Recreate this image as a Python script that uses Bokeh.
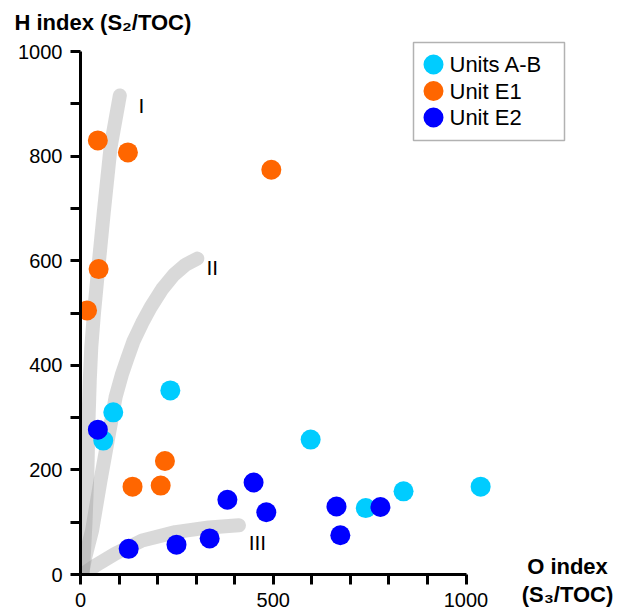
from bokeh.plotting import figure
from bokeh.models import Range1d, FixedTicker, Label, BoxAnnotation, Title
from bokeh.embed import file_html
from bokeh.resources import INLINE

# ---------------- data ----------------
ab_x = [233, 85, 59, 597, 740, 838, 1038]
ab_y = [352, 310, 256, 258, 127, 159, 168]

e1_x = [45, 123, 495, 47, 17, 219, 135, 208]
e1_y = [830, 807, 774, 584, 505, 217, 168, 170]

e2_x = [45, 381, 449, 482, 664, 778, 674, 125, 249, 335]
e2_y = [277, 143, 176, 119, 130, 129, 75, 49, 57, 69]

curve_I_x = [6, 13, 18, 21, 24, 28, 35, 43, 60, 78, 102]
curve_I_y = [0, 100, 200, 300, 371, 435, 500, 562, 690, 817, 916]

curve_II_x = [3, 13, 30, 52, 72, 91, 108, 122, 138, 160, 182, 212, 242, 272, 303]
curve_II_y = [0, 35, 84, 180, 262, 339, 384, 414, 447, 481, 511, 546, 573, 592, 604]

curve_III_x = [3, 13, 39, 91, 160, 246, 333, 411]
curve_III_y = [0, 4, 17, 40, 65, 81, 90, 94]

curve_names = ["I", "II", "III"]
curve_name_x = [158, 342, 459]
curve_name_y = [897, 587, 61]

series_labels = ["Units A-B", "Unit E1", "Unit E2"]
series_colors = ["#00CCFF", "#FF6600", "#0000FF"]

x_ticks = list(range(0, 1001, 100))
x_tick_labels = ["0", "500", "1000"]
x_tick_label_at = [0, 500, 1000]
y_ticks = list(range(0, 1001, 100))
y_tick_labels = ["0", "200", "400", "600", "800", "1000"]
y_tick_label_at = [0, 200, 400, 600, 800, 1000]

y_title = "H index (S\u2082/TOC)"
x_title = "O index\n(S\u2083/TOC)"

# ---------------- layout ----------------
FRAME_L, FRAME_R, FRAME_T, FRAME_B = 80, 567, 40, 574
PX_X = 0.3855
PX_Y = 0.523
x_end = (FRAME_R - FRAME_L) / PX_X
y_end = (FRAME_B - FRAME_T) / PX_Y


def dx(px):
    return (px - FRAME_L) / PX_X


def dy(py):
    return (FRAME_B - py) / PX_Y


FONT = "Liberation Sans"

p = figure(
    frame_width=FRAME_R - FRAME_L,
    frame_height=FRAME_B - FRAME_T,
    min_border_left=FRAME_L,
    min_border_right=627 - FRAME_R,
    min_border_top=FRAME_T,
    min_border_bottom=616 - FRAME_B,
    x_range=Range1d(0, x_end),
    y_range=Range1d(0, y_end),
    output_backend="svg",
    toolbar_location=None,
)
p.xgrid.visible = False
p.ygrid.visible = False
p.outline_line_color = None
p.background_fill_color = "white"
p.border_fill_color = "white"

for ax in (p.xaxis[0], p.yaxis[0]):
    ax.axis_line_width = 3
    ax.axis_line_color = "black"
    ax.major_tick_line_width = 3
    ax.major_tick_line_color = "black"
    ax.major_tick_out = 10
    ax.major_tick_in = 0
    ax.minor_tick_line_color = None
    ax.major_label_text_font = FONT
    ax.major_label_text_font_size = "20px"
    ax.major_label_text_color = "black"
    ax.major_label_standoff = 8
    ax.bounds = (0, 1000)

p.xaxis[0].ticker = FixedTicker(ticks=x_ticks)
p.xaxis[0].major_label_overrides = {
    t: (x_tick_labels[x_tick_label_at.index(t)] if t in x_tick_label_at else "")
    for t in x_ticks
}
p.yaxis[0].ticker = FixedTicker(ticks=y_ticks)
p.yaxis[0].major_label_overrides = {
    t: (y_tick_labels[y_tick_label_at.index(t)] if t in y_tick_label_at else "")
    for t in y_ticks
}

# x axis title, bottom right (beside the end of the axis)
xa = p.xaxis[0]
xa.axis_label = x_title
xa.axis_label_align = "end"
xa.axis_label_standoff = -56
xa.axis_label_text_font = FONT
xa.axis_label_text_font_size = "22px"
xa.axis_label_text_font_style = "bold"
xa.axis_label_text_color = "black"
xa.axis_label_text_line_height = 1.15

# y axis title, top left
p.add_layout(Title(text=y_title, align="left", offset=14 - FRAME_L, standoff=12,
                   text_font=FONT, text_font_size="22px", text_font_style="bold",
                   text_color="black"), "above")

# reference curves
for cx, cy in ((curve_I_x, curve_I_y), (curve_II_x, curve_II_y), (curve_III_x, curve_III_y)):
    p.line(cx, cy, line_width=14, line_color="#999999", line_alpha=0.37,
           line_cap="round", line_join="round")

for name, nx, ny in zip(curve_names, curve_name_x, curve_name_y):
    p.add_layout(Label(x=nx, y=ny, text=name, text_align="center",
                       text_baseline="middle", text_font=FONT,
                       text_font_size="21px", text_color="black"))

# data points
for xs, ys, col in ((ab_x, ab_y, series_colors[0]),
                    (e1_x, e1_y, series_colors[1]),
                    (e2_x, e2_y, series_colors[2])):
    p.scatter(xs, ys, size=20, fill_color=col, line_color=None)

# legend (manual)
p.add_layout(BoxAnnotation(left=dx(413), right=dx(564), top=dy(42), bottom=dy(140),
                           fill_color=None, line_color="black", line_width=1.5))
leg_rows = [64 + 26.5 * i for i in range(len(series_labels))]
p.scatter([dx(433)] * len(series_labels), [dy(r) for r in leg_rows], size=20,
          fill_color=series_colors, line_color=None)
for lab, r in zip(series_labels, leg_rows):
    p.add_layout(Label(x=dx(449), y=dy(r), text=lab, text_baseline="middle",
                       text_font=FONT, text_font_size="22px", text_color="black"))

open("out.html", "w").write(file_html(p, INLINE))
